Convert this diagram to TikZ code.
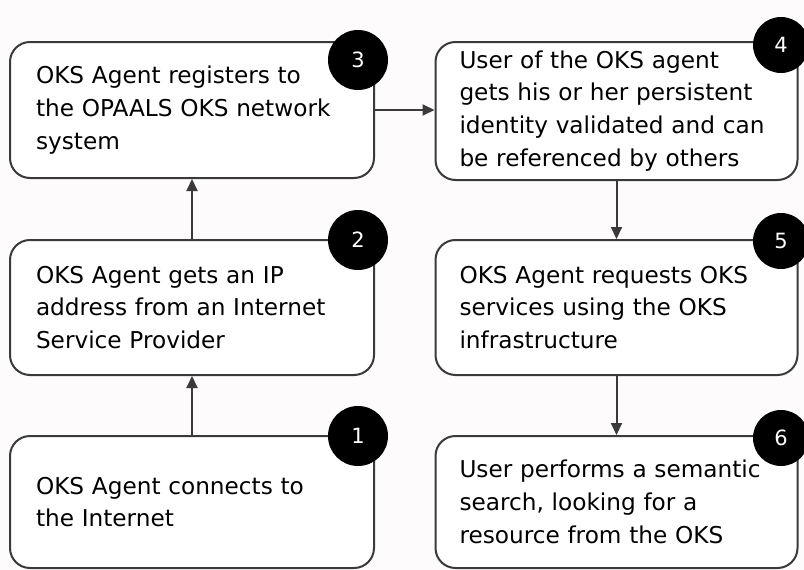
\documentclass[tikz,border=0pt]{standalone}
\usepackage{fontspec}
\setmainfont{DejaVu Sans}
\usetikzlibrary{arrows.meta}
\definecolor{edge}{HTML}{3A3A3A}
\definecolor{bg}{HTML}{FDFBFC}
\tikzset{
  stepbox/.style={draw=edge, line width=2pt, rounded corners=20pt, fill=white,
    align=left, inner xsep=26pt, inner ysep=0pt, font=\fontsize{23.2}{32.8}\selectfont},
  badge/.style={circle, fill=black, draw=none, text=white, minimum size=60pt, inner sep=0pt,
    font=\fontsize{21}{24}\selectfont},
  flow/.style={draw=edge, line width=2pt, -{Triangle[length=12pt,width=11pt]}}
}
\begin{document}
\begin{tikzpicture}[x=1pt,y=-1pt]
\fill[bg] (0,0) rectangle (804,570);
\useasboundingbox (0,0) rectangle (804,570);
% left column
\node[stepbox, minimum width=364pt, minimum height=136pt, text width=312pt] (b3) at (192,110)
  {OKS Agent registers to\\the OPAALS OKS network\\system};
\node[stepbox, minimum width=364pt, minimum height=135pt, text width=312pt] (b2) at (192,307.5)
  {OKS Agent gets an IP\\address from an Internet\\Service Provider};
\node[stepbox, minimum width=364pt, minimum height=132pt, text width=312pt] (b1) at (192,502)
  {OKS Agent connects to\\the Internet};
% right column
\node[stepbox, minimum width=362pt, minimum height=138pt, text width=314pt, inner xsep=24pt] (b4) at (616.5,111)
  {User of the OKS agent\\gets his or her persistent\\identity validated and can\\be referenced by others};
\node[stepbox, minimum width=362pt, minimum height=135pt, text width=314pt, inner xsep=24pt] (b5) at (616.5,307.5)
  {OKS Agent requests OKS\\services using the OKS\\infrastructure};
\node[stepbox, minimum width=362pt, minimum height=132pt, text width=314pt, inner xsep=24pt] (b6) at (616.5,502)
  {User performs a semantic\\search, looking for a\\resource from the OKS};
% badges
\node[badge] (c3) at (358,60) {3};
\node[badge] (c2) at (358,240) {2};
\node[badge] (c1) at (358,436) {1};
\node[badge, minimum size=56pt] (c4) at (781,45) {4};
\node[badge, minimum size=56pt] (c5) at (781,241) {5};
\node[badge, minimum size=56pt] (c6) at (781,438) {6};
% connectors
\draw[flow] (b1.north) -- (b2.south);
\draw[flow] (b2.north) -- (b3.south);
\draw[flow] (b3.east) -- (b3.east -| b4.west);
\draw[flow] (b4.south) -- (b5.north);
\draw[flow] (b5.south) -- (b6.north);
\end{tikzpicture}
\end{document}
